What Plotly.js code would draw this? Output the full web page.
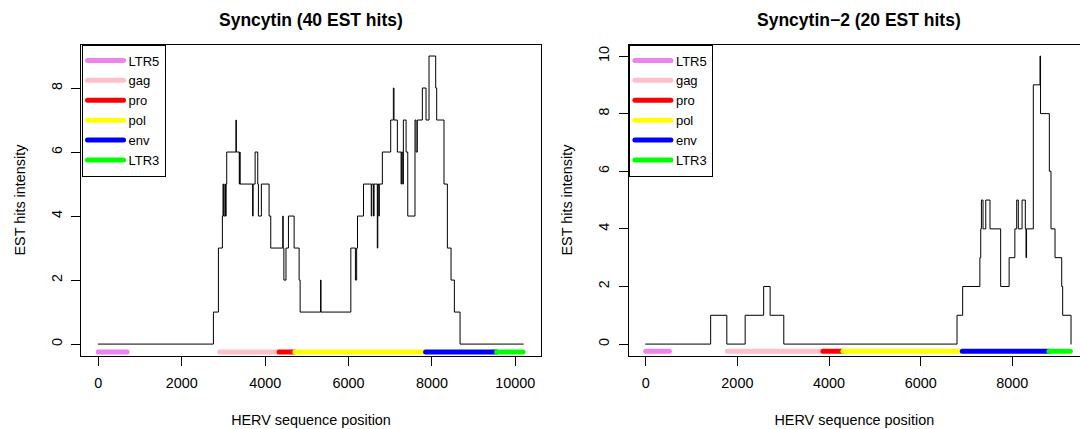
<!DOCTYPE html>
<html>
<head>
<meta charset="utf-8">
<script src="https://cdn.plot.ly/plotly-3.0.1.min.js"></script>
<style>
  html, body { margin: 0; padding: 0; background: #fff; }
  #chart { width: 1080px; height: 429px; }
  .js-line { stroke-linecap: round; }
</style>
</head>
<body>
<div id="chart"></div>
<script>
// ---------- data ----------
// Syncytin: coverage step profile (position where level starts, level)
const leftPos = [0,2760,2880,2975,2990,3005,3035,3050,3065,3079,
                 3300,3310,3380,3392,3400,3700,3712,3760,3823,3839,
                 3910,4095,4135,4423,4433,4450,4500,4559,4695,4815,
                 4839,5330,5340,6055,6165,6195,6215,6359,6545,6558,
                 6600,6612,6690,6702,6725,6738,6811,7011,7075,7090,
                 7171,7260,7275,7300,7315,7380,7420,7594,7620,7650,
                 7770,7858,7930,8090,8114,8289,8370,8458,8538,8674,
                 10192];
const leftVal = [0,1,3,4,5,4,5,4,5,6,
                 7,6,5,6,5,4,5,6,5,4,
                 5,4,3,4,3,2,3,4,3,2,
                 1,2,1,3,2,3,4,5,4,5,
                 4,5,3,5,4,5,6,7,8,7,
                 6,5,6,5,7,6,4,7,6,7,
                 8,7,9,8,7,5,3,2,1,0,
                 0];

// Syncytin-2
const rightPos = [0,1417,1770,2170,2574,2715,3013,6793,6916,7291,
                  7310,7325,7360,7420,7512,7745,7930,8055,8095,8130,
                  8212,8283,8298,8310,8457,8603,8615,8807,8843,8931,
                  9077,9098,9280];
const rightVal = [0,1,0,1,2,1,0,1,2,3,
                  4,5,4,5,4,2,3,4,5,4,
                  5,4,3,4,9,10,8,6,4,3,
                  2,1,0];

// HERV gene annotation
const genes = ['LTR5','gag','pro','pol','env','LTR3'];
const leftGeneStart  = [0, 2912, 4336, 4712, 7848, 9552];
const leftGeneEnd    = [690, 4336, 4712, 7848, 9552, 10184];
const rightGeneStart = [0, 1781, 3868, 4304, 6908, 8799];
const rightGeneEnd   = [516, 3868, 4304, 6908, 8799, 9265];
const geneLevel = -0.25;

const leftTicksX  = [0, 2000, 4000, 6000, 8000, 10000];
const rightTicksX = [0, 2000, 4000, 6000, 8000];
const leftTicksY  = [0, 2, 4, 6, 8];
const rightTicksY = [0, 2, 4, 6, 8, 10];

const titles = ['Syncytin (40 EST hits)', 'Syncytin\u22122 (20 EST hits)'];

// ---------- styles ----------
const geneColors = ['#EE82EE', '#FFC0CB', '#FF0000', '#FFFF00', '#0000FF', '#00FF00'];
const FONT = 'Liberation Sans, Arial, Helvetica, sans-serif';

const traces = [];
traces.push({x: leftPos, y: leftVal, xaxis: 'x', yaxis: 'y', type: 'scatter', mode: 'lines',
  line: {shape: 'hv', color: '#000', width: 1}, showlegend: false, hoverinfo: 'skip'});
genes.forEach((g, i) => traces.push({
  x: [leftGeneStart[i], leftGeneEnd[i]], y: [geneLevel, geneLevel],
  xaxis: 'x', yaxis: 'y', type: 'scatter', mode: 'lines', name: g, legend: 'legend',
  line: {color: geneColors[i], width: 5}
}));
traces.push({x: rightPos, y: rightVal, xaxis: 'x2', yaxis: 'y2', type: 'scatter', mode: 'lines',
  line: {shape: 'hv', color: '#000', width: 1}, showlegend: false, hoverinfo: 'skip'});
genes.forEach((g, i) => traces.push({
  x: [rightGeneStart[i], rightGeneEnd[i]], y: [geneLevel, geneLevel],
  xaxis: 'x2', yaxis: 'y2', type: 'scatter', mode: 'lines', name: g, legend: 'legend2',
  line: {color: geneColors[i], width: 5}
}));

const W = 1080, H = 429;
const yDom = [(H - 355.6) / H, (H - 44.5) / H];
const axisFont = {family: FONT, size: 14.4, color: '#000'};

function xAxis(dom, range, ticks, anchor) {
  return {
    domain: dom, range: range, anchor: anchor, tickvals: ticks, ticktext: ticks.map(String),
    showline: true, mirror: true, linecolor: '#000', linewidth: 1,
    ticks: 'outside', ticklen: 9, tickcolor: '#000', tickwidth: 1, ticklabelstandoff: 5,
    showgrid: false, zeroline: false, tickfont: axisFont, automargin: false,
    title: {text: 'HERV sequence position', font: axisFont, standoff: 25}
  };
}
function yAxis(range, ticks, anchor, mirror) {
  return {
    domain: yDom, range: range, anchor: anchor, tickvals: ticks, ticktext: ticks.map(String),
    showline: true, mirror: mirror, linecolor: '#000', linewidth: 1,
    ticks: 'outside', ticklen: 9, tickcolor: '#000', tickwidth: 1, tickangle: -90,
    ticklabelstandoff: 4,
    showgrid: false, zeroline: false, tickfont: axisFont, automargin: false,
    title: {text: 'EST hits intensity', font: axisFont, standoff: 19}
  };
}

const legendBase = {
  xanchor: 'left', yanchor: 'top', bgcolor: '#fff', bordercolor: '#000', borderwidth: 1,
  font: {family: FONT, size: 13, color: '#000'}, traceorder: 'normal', itemwidth: 36,
  tracegroupgap: 0
};

const layout = {
  width: W, height: H,
  margin: {l: 0, r: 0, t: 0, b: 0},
  paper_bgcolor: '#fff', plot_bgcolor: '#fff',
  font: {family: FONT, color: '#000'},
  xaxis: xAxis([81.3 / W, 540.7 / W], [-408, 10608], leftTicksX, 'y'),
  yaxis: yAxis([-0.36, 9.36], leftTicksY, 'x', true),
  xaxis2: xAxis([628.7 / W, 1], [-371, 9476], rightTicksX, 'y2'),
  yaxis2: yAxis([-0.4, 10.4], rightTicksY, 'x2', false),
  legend: Object.assign({x: 81.5 / W, y: yDom[1]}, legendBase),
  legend2: Object.assign({x: 628.9 / W, y: yDom[1]}, legendBase),
  annotations: [
    {text: '<b>' + titles[0] + '</b>', x: 311 / W, y: (H - 20) / H, xref: 'paper', yref: 'paper',
     showarrow: false, xanchor: 'center', yanchor: 'middle', font: {family: FONT, size: 17.5, color: '#000'}},
    {text: '<b>' + titles[1] + '</b>', x: 858.5 / W, y: (H - 20) / H, xref: 'paper', yref: 'paper',
     showarrow: false, xanchor: 'center', yanchor: 'middle', font: {family: FONT, size: 17.5, color: '#000'}}
  ],
  showlegend: true
};

Plotly.newPlot('chart', traces, layout, {staticPlot: true, displayModeBar: false});
</script>
</body>
</html>
